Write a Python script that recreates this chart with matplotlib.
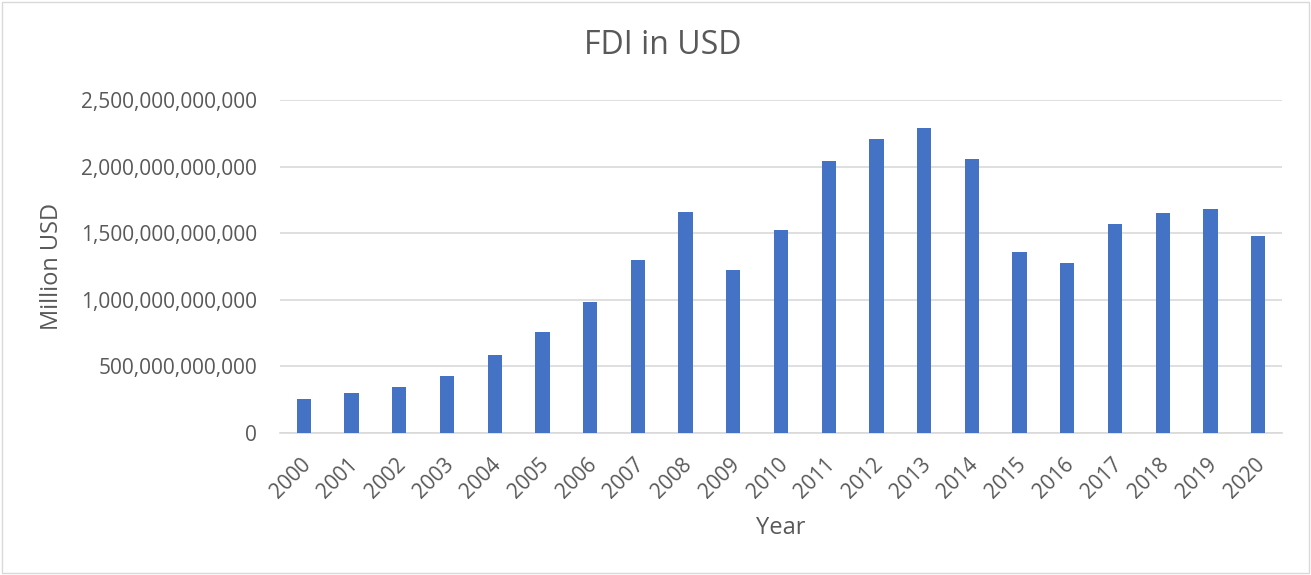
import matplotlib
matplotlib.use("Agg")
import matplotlib.pyplot as plt
from matplotlib.ticker import FuncFormatter
from matplotlib.patches import Rectangle
from matplotlib.transforms import ScaledTranslation

years = [str(y) for y in range(2000, 2021)]
fdi = [0.255e12, 0.303e12, 0.343e12, 0.430e12, 0.588e12, 0.761e12, 0.986e12,
       1.296e12, 1.659e12, 1.221e12, 1.526e12, 2.045e12, 2.207e12, 2.287e12,
       2.057e12, 1.361e12, 1.274e12, 1.572e12, 1.654e12, 1.684e12, 1.481e12]
yticks = [0, 0.5e12, 1.0e12, 1.5e12, 2.0e12, 2.5e12]

plt.rcParams['font.family'] = ['Open Sans', 'DejaVu Sans']
text_color = '#595959'

W, H = 1311, 575
fig = plt.figure(figsize=(W/100, H/100), dpi=100)
ax = fig.add_axes([280/W, 1-433/H, 1002/W, 333/H])

x = list(range(len(years)))
ax.bar(x, fdi, width=0.3, color='#4472C4', zorder=3)
ax.set_xlim(-0.5, len(years)-0.5)
ax.set_ylim(0, 2.5e12)
ax.set_yticks(yticks)
ax.yaxis.set_major_formatter(FuncFormatter(lambda v, p: f"{int(round(v)):,}"))
ax.set_xticks(x)
ax.set_xticklabels(years, rotation=45, ha='right', rotation_mode='anchor')
ax.grid(axis='y', color='#D9D9D9', linewidth=1.2, zorder=0)
for s in ['top', 'right', 'left']:
    ax.spines[s].set_visible(False)
ax.spines['bottom'].set_color('#D9D9D9')
ax.spines['bottom'].set_linewidth(1.2)
ax.tick_params(axis='both', length=0, colors=text_color, labelsize=15)
ax.tick_params(axis='y', pad=16.5)
ax.tick_params(axis='x', pad=15)
offset = ScaledTranslation(-4/100, 0, fig.dpi_scale_trans)
for lbl in ax.get_xticklabels():
    lbl.set_transform(lbl.get_transform() + offset)

fig.text(663/W, 1-45/H, 'FDI in USD', fontsize=23, color=text_color,
         ha='center', va='center')
ax.set_xlabel('Year', fontsize=17, color=text_color, va='center')
ax.xaxis.set_label_coords(0.5, (433-528)/333)
ax.set_ylabel('Million USD', fontsize=17, color=text_color, va='center')
ax.yaxis.set_label_coords((52-280)/1002, 0.5)

fig.patches.append(Rectangle((2/W, 2/H), 1-4/W, 1-4/H, transform=fig.transFigure,
                             fill=False, edgecolor='#D9D9D9', linewidth=1))

fig.savefig('out.png', dpi=100)
